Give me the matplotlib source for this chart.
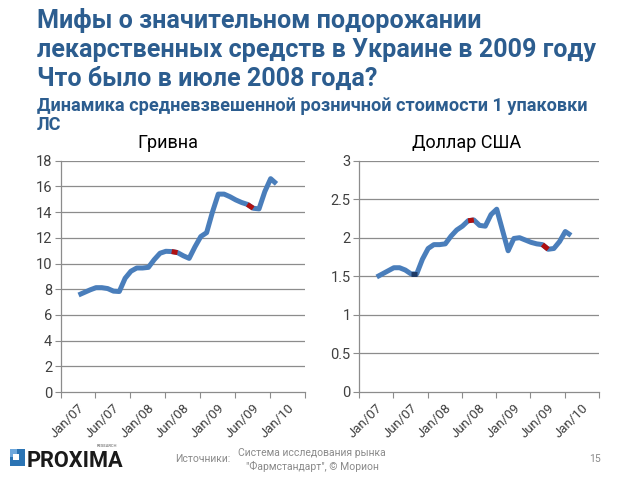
import numpy as np
import matplotlib
matplotlib.use("Agg")
import matplotlib.pyplot as plt
from matplotlib.patches import Rectangle

# ---------------- data ----------------
tick_labels = ['Jan/07', 'Jun/07', 'Jan/08', 'Jun/08', 'Jan/09', 'Jun/09', 'Jan/10']
uah = [7.55, 7.75, 7.95, 8.12, 8.12, 8.05, 7.85, 7.82, 8.85, 9.40,
       9.65, 9.65, 9.70, 10.30, 10.80, 10.95, 10.93, 10.85, 10.60, 10.40,
       11.30, 12.10, 12.40, 14.00, 15.40, 15.40, 15.20, 14.95, 14.75, 14.60,
       14.30, 14.25, 15.60, 16.60, 16.20]
usd = [1.49, 1.53, 1.57, 1.61, 1.61, 1.58, 1.53, 1.53, 1.72, 1.86,
       1.91, 1.91, 1.92, 2.02, 2.10, 2.15, 2.22, 2.23, 2.16, 2.15,
       2.30, 2.37, 2.10, 1.83, 1.99, 2.00, 1.97, 1.94, 1.92, 1.91,
       1.85, 1.86, 1.95, 2.08, 2.03]
red_segments = [(16, 17), (29, 30)]
uah_ticks = [0, 2, 4, 6, 8, 10, 12, 14, 16, 18]
usd_ticks = [0, 0.5, 1, 1.5, 2, 2.5, 3]
usd_ticklabels = ['0', '0.5', '1', '1.5', '2', '2.5', '3']

TITLE_LINES = ['Мифы о значительном подорожании',
               'лекарственных средств в Украине в 2009 году',
               'Что было в июле 2008 года?']
SUB_LINES = ['Динамика средневзвешенной розничной стоимости 1 упаковки', 'ЛС']

W, H = 640, 480
fig = plt.figure(figsize=(6.4, 4.8), dpi=100)
fig.patch.set_facecolor('white')

LINE_C = '#4A7EBB'
GRID_C = '#8C8C8C'
TXT_C = '#404040'
TITLE_C = '#2C5D8F'
FONT = ['Roboto', 'DejaVu Sans']

def fx(px):
    return px / W

def fy(py):
    return 1 - py / H

def make_ax(left, right, top, bottom, values, yticks, ylabels, ymax, title, title_x,
            extra_dark=None):
    ax = fig.add_axes([fx(left), fy(bottom), fx(right) - fx(left), fy(top) - fy(bottom)])
    x = np.arange(len(values))
    v = np.array(values)
    x0 = -3.1
    ax.set_xlim(x0, x0 + 6 * len(tick_labels))
    ax.set_ylim(0, ymax)
    for yv in yticks[1:]:
        ax.axhline(yv, color=GRID_C, lw=0.9, zorder=1)
    ax.plot(x, v, color=LINE_C, lw=3.6, solid_joinstyle='round', solid_capstyle='butt', zorder=3)
    for a, b in red_segments:
        ax.plot(x[a:b + 1], v[a:b + 1], color='#B01010', lw=3.6, solid_capstyle='butt', zorder=4)
    if extra_dark is not None:
        a, b = extra_dark
        ax.plot(x[a:b + 1], v[a:b + 1], color='#1F3B66', lw=3.6, solid_capstyle='butt', zorder=4)
    ax.set_xticks(x0 + 6 * np.arange(len(tick_labels) + 1))
    ax.set_xticklabels([])
    ax.set_xticks(x0 + 3 + 6 * np.arange(len(tick_labels)), minor=True)
    ax.set_xticklabels(tick_labels, minor=True, rotation=45, ha='right', va='top',
                       rotation_mode='anchor', fontsize=9.5, color=TXT_C, family=FONT)
    ax.tick_params(axis='x', which='minor', length=0, pad=7)
    ax.tick_params(axis='x', which='major', length=4, color=GRID_C, direction='out')
    ax.set_yticks(yticks)
    ax.set_yticklabels(ylabels, fontsize=10.5, color=TXT_C, family=FONT)
    ax.tick_params(axis='y', length=4, color=GRID_C, direction='out', pad=2)
    for s in ['top', 'right']:
        ax.spines[s].set_visible(False)
    ax.spines['left'].set_color(GRID_C)
    ax.spines['bottom'].set_color(GRID_C)
    ax.spines['left'].set_linewidth(0.9)
    ax.spines['bottom'].set_linewidth(0.9)
    fig.text(fx(title_x), fy(148), title, fontsize=13, color='black', family=FONT,
             ha='center', va='baseline')
    return ax

make_ax(60.5, 305, 160.7, 392, uah, uah_ticks, [str(t) for t in uah_ticks], 18, 'Гривна', 168)
make_ax(359, 599, 160.7, 391.7, usd, usd_ticks, usd_ticklabels, 3, 'Доллар США', 467,
        extra_dark=(6, 7))

# ---------------- titles ----------------
renderer = fig.canvas.get_renderer()

def fit(t, width_px):
    bb = t.get_window_extent(renderer)
    t.set_fontsize(t.get_fontsize() * width_px / bb.width)
    return t.get_fontsize()

t2 = fig.text(fx(37), fy(57), TITLE_LINES[1], fontsize=14, weight='bold', color=TITLE_C,
              family=FONT, va='baseline')
size = fit(t2, 561)
fig.text(fx(37), fy(28), TITLE_LINES[0], fontsize=size, weight='bold', color=TITLE_C,
         family=FONT, va='baseline')
fig.text(fx(37), fy(86), TITLE_LINES[2], fontsize=size, weight='bold', color=TITLE_C,
         family=FONT, va='baseline')
t4 = fig.text(fx(37), fy(111), SUB_LINES[0], fontsize=11, weight='bold', color=TITLE_C,
              family=FONT, va='baseline')
s4 = fit(t4, 553)
fig.text(fx(37), fy(130), SUB_LINES[1], fontsize=s4, weight='bold', color=TITLE_C,
         family=FONT, va='baseline')

# ---------------- footer ----------------
def rect(x, y, w, h, c):
    fig.patches.append(Rectangle((fx(x), fy(y + h)), w / W, h / H, transform=fig.transFigure,
                                 facecolor=c, edgecolor='none'))

rect(10, 449, 15, 17, '#2B74B4')
rect(10, 449, 7, 8, '#6FA8DC')
rect(13, 454, 6, 6, 'white')
pt = fig.text(fx(27), fy(467), 'PROXIMA', fontsize=18, weight='bold', color='#1A1A1A',
              family=FONT, va='baseline')
fit(pt, 97)
fig.text(fx(97), fy(447), 'RESEARCH', fontsize=3, color='#555555', family=FONT, va='baseline')
fig.text(fx(175), fy(462), 'Источники:', fontsize=7.5, color='#8A8A8A', family=FONT, va='baseline')
fig.text(fx(312), fy(456), 'Система исследования рынка', fontsize=7.5, color='#8A8A8A',
         family=FONT, va='baseline', ha='center')
fig.text(fx(312), fy(470), '"Фармстандарт", © Морион', fontsize=7.5, color='#8A8A8A',
         family=FONT, va='baseline', ha='center')
fig.text(fx(595), fy(462), '15', fontsize=7.5, color='#8A8A8A', family=FONT, va='baseline',
         ha='center')

fig.savefig('out.png', dpi=100)
